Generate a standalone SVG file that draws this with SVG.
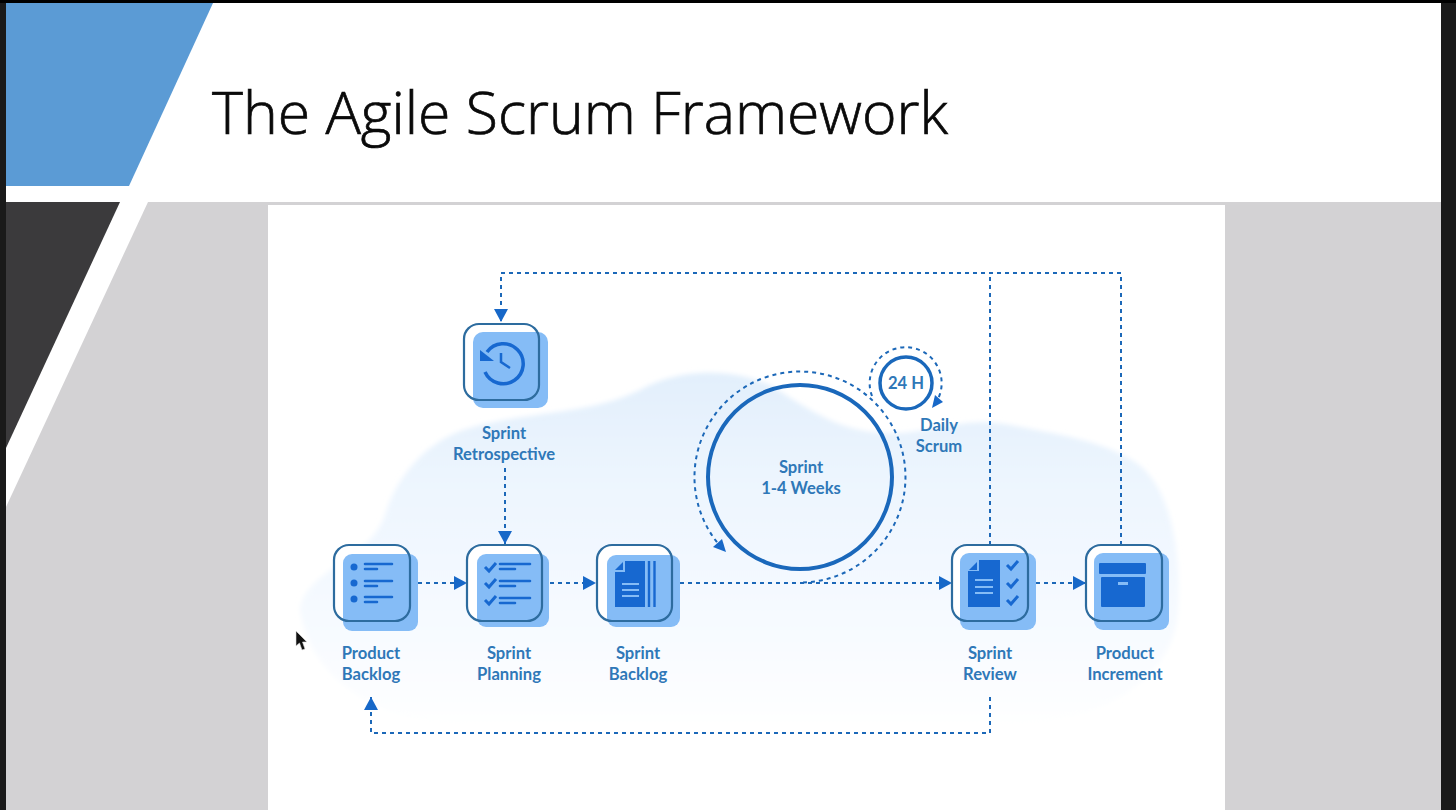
<svg xmlns="http://www.w3.org/2000/svg" width="1456" height="810" viewBox="0 0 1456 810">
<style>
.lbl{font-family:"Lato","Liberation Sans",sans-serif;font-weight:700;font-size:16.6px;fill:#2f78b8;text-anchor:middle}
.title{font-family:"Open Sans","Noto Sans",sans-serif;font-size:58px;font-weight:300;fill:#0a0a0a;stroke:#0a0a0a;stroke-width:0.700}
.back{fill:#85bcf6}
.plate{fill:#fff}
.frame{fill:none;stroke:#2d6c9f;stroke-width:2.2}
.ink{fill:#1768d0}
.line{fill:none;stroke:#1768d0;stroke-width:2.6;stroke-linecap:round}
.conn{fill:none;stroke:#1c68b8;stroke-width:2;stroke-dasharray:4 4;marker-end:url(#arrow)}
.plain{fill:none;stroke:#1c68b8;stroke-width:2;stroke-dasharray:4 4}
</style>
<defs>
<marker id="arrow" markerUnits="userSpaceOnUse" markerWidth="14" markerHeight="14" refX="13" refY="7" orient="auto"><path d="M0 0L13 7L0 14Z" fill="#1768c8"/></marker>
<linearGradient id="cloud" gradientUnits="userSpaceOnUse" x1="0" y1="370" x2="0" y2="730"><stop offset="0" stop-color="#e2effc"/><stop offset="0.35" stop-color="#eef6fe"/><stop offset="0.7" stop-color="#f6faff"/><stop offset="1" stop-color="#ffffff"/></linearGradient>
<filter id="soft" x="-5%" y="-5%" width="110%" height="110%"><feGaussianBlur stdDeviation="2.500"/></filter>
</defs>
<rect id="screen" width="1456" height="810" fill="#1a1a1a"/>
<rect x="0" y="0" width="1456" height="3" fill="#000"/>
<rect x="6" y="3" width="1435" height="807" fill="#fff"/>
<path d="M6 3H213L129 186H6Z" fill="#5b9bd5"/>
<path d="M6 202H120L6 448Z" fill="#3b3a3c"/>
<path d="M148 202H1441V810H6V507Z" fill="#d3d2d4"/>
<rect x="268" y="205" width="957" height="605" fill="#fff"/>
<text class="title" x="212" y="134" textLength="736" lengthAdjust="spacingAndGlyphs">The Agile Scrum Framework</text>
<path d="M296 631L296 646L299.500 643L302 650L305 649L302.500 642L307 642Z" fill="#111" stroke="#ddd" stroke-width="0.600"/>
<path id="cloudshape" filter="url(#soft)" d="M300 610C305 570 370 560 385 515C395 480 425 440 470 428C520 412 590 415 640 390C680 368 730 368 770 385C810 410 840 432 885 433C930 435 960 415 1010 425C1060 435 1100 440 1135 462C1170 485 1182 550 1178 610C1175 670 1120 720 1000 730L480 730C380 725 310 680 300 610Z" fill="url(#cloud)"/>

<g id="connectors">
<path class="conn" d="M1121 545V273H501V322"/>
<path class="plain" d="M990 545V273"/>
<path class="conn" d="M990 697V733H371V697"/>
<path class="conn" d="M505 468V544"/>
<path class="conn" d="M410 583H467"/>
<path class="conn" d="M542 583H596"/>
<path class="conn" d="M672 583H952"/>
<path class="conn" d="M1028 583H1086"/>
</g>

<g id="sprint">
<circle cx="800" cy="477" r="92" fill="none" stroke="#1a68bb" stroke-width="4"/>
<path class="plain" d="M803 582.500A105.500 105.500 0 1 0 721 547"/>
<path d="M722 539L726 552L713 547Z" fill="#1768c8"/>
<text class="lbl" x="801" y="473">Sprint</text>
<text class="lbl" x="801" y="494">1-4 Weeks</text>
</g>
<g id="daily-scrum">
<circle cx="906" cy="383" r="26" fill="#fff" stroke="#1a68bb" stroke-width="3.500"/>
<path class="plain" d="M872 396A36 36 0 1 1 938 399"/>
<path d="M935 395L943 402L932 408Z" fill="#1768c8"/>
<text class="lbl" x="906" y="389">24 H</text>
<text class="lbl" x="939" y="431">Daily</text>
<text class="lbl" x="939" y="452">Scrum</text>
</g>

<g id="retrospective">
<rect class="plate" x="464" y="324" width="75" height="76" rx="15"/>
<rect class="back" x="473" y="332" width="75" height="76" rx="10"/>
<rect class="frame" x="464" y="324" width="75" height="76" rx="15"/>
<path d="M487 352A20 20 0 1 1 485 372" fill="none" stroke="#1768d0" stroke-width="3.500"/>
<path d="M480 350V361H494Z" class="ink"/>
<path d="M501 353V362L510 368" fill="none" stroke="#1768d0" stroke-width="2.500"/>
<text class="lbl" x="504" y="439">Sprint</text>
<text class="lbl" x="504" y="460">Retrospective</text>
</g>

<g id="product-backlog">
<rect class="plate" x="334" y="545" width="76" height="76" rx="15"/>
<rect class="back" x="343" y="554" width="75" height="77" rx="9"/>
<rect class="frame" x="334" y="545" width="76" height="76" rx="15"/>
<circle class="ink" cx="354" cy="567" r="3.500"/><circle class="ink" cx="354" cy="583" r="3.500"/><circle class="ink" cx="354" cy="599" r="3.500"/>
<path class="line" d="M365 564H392M365 569H377M365 581H392M365 586H377M365 597H392M365 602H377"/>
<text class="lbl" x="371" y="659">Product</text>
<text class="lbl" x="371" y="680">Backlog</text>
</g>

<g id="sprint-planning">
<rect class="plate" x="467" y="545" width="75" height="76" rx="15"/>
<rect class="back" x="477" y="554" width="72" height="73" rx="9"/>
<rect class="frame" x="467" y="545" width="75" height="76" rx="15"/>
<path d="M485 567L489 571L496 563M485 583L489 587L496 579M485 600L489 604L496 596" fill="none" stroke="#1768d0" stroke-width="3"/>
<path class="line" d="M500 564H530M500 569H515M500 581H530M500 586H515M500 598H530M500 603H515"/>
<text class="lbl" x="509" y="659">Sprint</text>
<text class="lbl" x="509" y="680">Planning</text>
</g>

<g id="sprint-backlog">
<rect class="plate" x="597" y="545" width="75" height="76" rx="15"/>
<rect class="back" x="607" y="555" width="73" height="72" rx="9"/>
<rect class="frame" x="597" y="545" width="75" height="76" rx="15"/>
<path class="ink" d="M625 561V572H615V607H645V561Z"/>
<path class="ink" d="M615 570L623 562V570Z"/>
<path d="M649 561V607M654.500 561V607" stroke="#1768d0" stroke-width="2.400" fill="none"/>
<path d="M622 584H639M622 590H639M622 596H639" stroke="#85bcf6" stroke-width="2.200" fill="none"/>
<text class="lbl" x="638" y="659">Sprint</text>
<text class="lbl" x="638" y="680">Backlog</text>
</g>

<g id="sprint-review">
<rect class="plate" x="952" y="545" width="76" height="76" rx="15"/>
<rect class="back" x="960" y="553" width="76" height="77" rx="9"/>
<rect class="frame" x="952" y="545" width="76" height="76" rx="15"/>
<path class="ink" d="M979 560V571H968V607H1000V560Z"/>
<path class="ink" d="M969 570L977 562V570Z"/>
<path d="M975 580H993M975 587H993M975 593H993" stroke="#85bcf6" stroke-width="2.200" fill="none"/>
<path d="M1007 565L1011 569L1018 561M1007 583L1011 587L1018 579M1007 600L1011 604L1018 596" fill="none" stroke="#1768d0" stroke-width="3"/>
<text class="lbl" x="990" y="659">Sprint</text>
<text class="lbl" x="990" y="680">Review</text>
</g>

<g id="product-increment">
<rect class="plate" x="1086" y="545" width="76" height="76" rx="15"/>
<rect class="back" x="1094" y="553" width="75" height="77" rx="9"/>
<rect class="frame" x="1086" y="545" width="76" height="76" rx="15"/>
<rect class="ink" x="1099" y="563" width="47" height="11" rx="1"/>
<rect class="ink" x="1101" y="577" width="44" height="30" rx="1"/>
<rect x="1118" y="582" width="10" height="3" fill="#85bcf6"/>
<text class="lbl" x="1125" y="659">Product</text>
<text class="lbl" x="1125" y="680">Increment</text>
</g>
</svg>
